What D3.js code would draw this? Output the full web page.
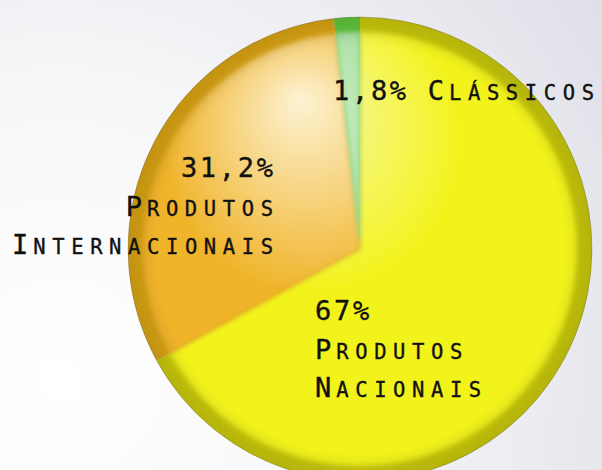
<!DOCTYPE html>
<html>
<head>
<meta charset="utf-8">
<script src="https://cdn.jsdelivr.net/npm/d3@7"></script>
<style>
	body { margin: 0; background: #fff; }
	svg { display: block; }
	.lbl { font-family: "DejaVu Sans Mono", monospace; font-size: 27px; fill: #111; stroke: #111; stroke-width: 0.35px; }
	.sc { font-size: 20.5px; text-transform: uppercase; }
</style>
</head>
<body>
<svg id="chart"></svg>
<script>
// data
const categories = ["Produtos Nacionais", "Produtos Internacionais", "Clássicos"];
const values = [67, 31.2, 1.8];
const percentLabels = ["67%", "31,2%", "1,8%"];
const rimColors = ["#c8c80c", "#d9a214", "#5cc43e"];
const innerLight = ["#f7f7b0", "#fdf3d4", "#ccefc4"];
const innerBase = ["#f3f31a", "#f0b42a", "#9fd99a"];

const width = 602, height = 470;
const cx = 360, cy = 249, radius = 232, rim = 15;

const svg = d3.select("#chart")
	.attr("width", width)
	.attr("height", height);

const defs = svg.append("defs");

// background
const bg = defs.append("radialGradient")
	.attr("id", "bg")
	.attr("gradientUnits", "userSpaceOnUse")
	.attr("cx", 60).attr("cy", 380).attr("r", 660);
bg.append("stop").attr("offset", 0).attr("stop-color", "#ffffff");
bg.append("stop").attr("offset", 0.45).attr("stop-color", "#f7f7f9");
bg.append("stop").attr("offset", 1).attr("stop-color", "#dfdfe8");

svg.append("rect")
	.attr("width", width)
	.attr("height", height)
	.attr("fill", "url(#bg)");

// glossy gradients per slice (coords relative to pie centre)
categories.forEach((c, i) => {
	const gr = defs.append("radialGradient")
		.attr("id", "inner" + i)
		.attr("gradientUnits", "userSpaceOnUse")
		.attr("cx", -30).attr("cy", -60)
		.attr("fx", -60).attr("fy", -150)
		.attr("r", radius * 1.3);
	gr.append("stop").attr("offset", 0).attr("stop-color", innerLight[i]);
	gr.append("stop").attr("offset", 0.5).attr("stop-color", innerBase[i]);
	gr.append("stop").attr("offset", 1).attr("stop-color", innerBase[i]);
});

const edge = defs.append("radialGradient")
	.attr("id", "edge")
	.attr("gradientUnits", "userSpaceOnUse")
	.attr("cx", 0).attr("cy", 0).attr("r", radius);
edge.append("stop").attr("offset", 0.88).attr("stop-color", "#000").attr("stop-opacity", 0);
edge.append("stop").attr("offset", 1).attr("stop-color", "#3a3a00").attr("stop-opacity", 0.14);

defs.append("filter")
	.attr("id", "soft")
	.attr("x", "-10%").attr("y", "-10%").attr("width", "120%").attr("height", "120%")
	.append("feGaussianBlur")
	.attr("stdDeviation", 2.5);

const pie = d3.pie().sort(null).value(d => d);
const arcs = pie(values);

const outerArc = d3.arc().innerRadius(0).outerRadius(radius);
const innerArc = d3.arc().innerRadius(0).outerRadius(radius - rim);

const g = svg.append("g")
	.attr("transform", `translate(${cx},${cy})`);

g.selectAll(".rim")
	.data(arcs)
	.enter()
	.append("path")
	.attr("class", "rim")
	.attr("d", outerArc)
	.attr("fill", (d, i) => rimColors[i]);

g.selectAll(".inner")
	.data(arcs)
	.enter()
	.append("path")
	.attr("class", "inner")
	.attr("d", innerArc)
	.attr("fill", (d, i) => `url(#inner${i})`)
	.attr("filter", "url(#soft)");

g.append("circle")
	.attr("r", radius)
	.attr("fill", "url(#edge)");

g.append("circle")
	.attr("r", radius)
	.attr("fill", "none")
	.attr("stroke", "rgba(60,60,40,0.25)")
	.attr("stroke-width", 1);

// labels (small caps done by hand: big first letter, rest smaller uppercase)
const numLs = 2.7, capLs = 5, scLs = 6.6;

function addLine(x, y, anchor, parts) {
	const t = svg.append("text")
		.attr("class", "lbl")
		.attr("text-anchor", anchor)
		.attr("x", anchor === "end" ? x + parts[parts.length - 1].ls : x)
		.attr("y", y);
	parts.forEach(p => {
		const ts = t.append("tspan")
			.attr("letter-spacing", p.ls)
			.text(p.text);
		if (p.sc) ts.attr("class", "sc");
	});
}

function wordParts(word) {
	return [
		{ text: word.charAt(0), ls: capLs },
		{ text: word.slice(1), ls: scLs, sc: true }
	];
}

const nacParts = categories[0].split(" ");
const intParts = categories[1].split(" ");
const lineGap = 38.5;

addLine(315, 320, "start", [{ text: percentLabels[0], ls: numLs }]);
addLine(315, 320 + lineGap, "start", wordParts(nacParts[0]));
addLine(315, 320 + lineGap * 2, "start", wordParts(nacParts[1]));

addLine(273, 177, "end", [{ text: percentLabels[1], ls: numLs }]);
addLine(273, 177 + lineGap, "end", wordParts(intParts[0]));
addLine(273, 177 + lineGap * 2, "end", wordParts(intParts[1]));

addLine(333, 100, "start", [{ text: percentLabels[2] + " ", ls: numLs }].concat(wordParts(categories[2])));
</script>
</body>
</html>
